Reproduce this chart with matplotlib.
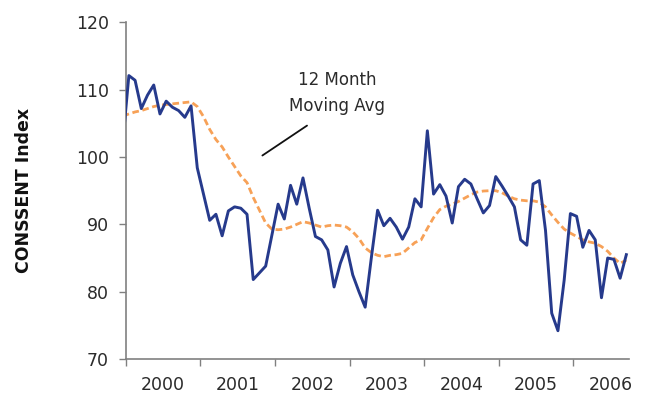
import numpy as np
import matplotlib
matplotlib.use("Agg")
import matplotlib.pyplot as plt
from matplotlib.ticker import FixedLocator, NullFormatter

# monthly consumer sentiment, Dec 1999 .. Sep 2006
start_year = 1999
start_month = 11  # zero-based month index of first value (December)
index_values = [
    102.0,
    112.1, 111.4, 107.2, 109.2, 110.7, 106.4, 108.3, 107.4, 106.9, 105.9, 107.6, 98.4,
    94.5, 90.6, 91.5, 88.3, 92.0, 92.6, 92.4, 91.5, 81.8, 82.8, 83.8, 88.4,
    93.0, 90.8, 95.8, 93.0, 96.9, 92.4, 88.2, 87.7, 86.2, 80.7, 84.2, 86.7,
    82.5, 80.0, 77.7, 85.1, 92.1, 89.8, 90.9, 89.6, 87.8, 89.6, 93.8, 92.6,
    103.9, 94.5, 95.9, 94.2, 90.2, 95.6, 96.7, 96.0, 93.8, 91.7, 92.8, 97.1,
    95.7, 94.2, 92.6, 87.7, 86.9, 96.0, 96.5, 89.1, 76.8, 74.2, 81.7, 91.6,
    91.2, 86.6, 89.1, 87.7, 79.1, 85.0, 84.8, 82.0, 85.5,
]
moving_avg = [
    106.1,
    106.4, 106.7, 106.9, 107.2, 107.5, 107.7, 107.8, 107.9, 108.0, 108.1, 108.2, 107.5,
    106.0, 104.1, 102.6, 101.5, 100.0, 98.6, 97.2, 96.2, 94.0, 92.1, 90.2, 89.3,
    89.2, 89.3, 89.6, 90.0, 90.4, 90.2, 89.9, 89.6, 89.8, 89.9, 89.8, 89.6,
    88.9, 87.9, 86.5, 85.8, 85.4, 85.2, 85.4, 85.5, 85.7, 86.5, 87.3, 87.7,
    89.4, 91.0, 92.2, 92.7, 93.0, 93.4, 93.9, 94.4, 94.8, 94.95, 95.0, 95.0,
    94.7, 94.2, 93.8, 93.6, 93.5, 93.5, 93.3, 92.6, 91.4, 90.3, 89.3, 88.7,
    88.2, 87.7, 87.4, 87.2, 86.7, 86.0, 85.0, 84.2, 84.7,
]
years = [2000, 2001, 2002, 2003, 2004, 2005, 2006]

navy = "#263a8c"
orange = "#f7a157"
grey = "#808080"
text_col = "#2b2b2b"

# each value sits in the middle of its month
months = np.arange(len(index_values)) + start_month + 0.5
t = start_year + months / 12.0

fig = plt.figure(figsize=(6.55, 3.93), dpi=100)
ax = fig.add_axes([0.192, 0.0865, 0.769, 0.8565])

ax.plot(t, moving_avg, color=orange, lw=2.0, ls=(0, (2.4, 1.3)), zorder=2)
ax.plot(t, index_values, color=navy, lw=2.1, zorder=3)

ax.set_xlim(2000, 2006.75)
ax.set_ylim(70, 120)

# year boundaries get tick marks, labels sit in the middle of each year
ax.xaxis.set_major_locator(FixedLocator(years))
ax.xaxis.set_major_formatter(NullFormatter())
ax.xaxis.set_minor_locator(FixedLocator([y + 0.5 for y in years]))
ax.set_xticklabels([str(y) for y in years], minor=True)
ax.tick_params(axis="x", which="major", length=5, width=1, color=grey, direction="out")
ax.tick_params(axis="x", which="minor", length=0, pad=12, labelsize=12.5, labelcolor=text_col)

ax.set_yticks(np.arange(70, 121, 10))
ax.tick_params(axis="y", length=5, width=1, color=grey, direction="out",
               pad=7, labelsize=12.5, labelcolor=text_col)

for side in ("top", "right"):
    ax.spines[side].set_visible(False)
for side in ("left", "bottom"):
    ax.spines[side].set_color(grey)
    ax.spines[side].set_linewidth(1.2)

ax.set_ylabel("CONSSENT Index", fontsize=12.5, fontweight="bold", color="#111111", labelpad=31)

ax.text(2002.83, 109.5, "12 Month\nMoving Avg", ha="center", va="center",
        fontsize=12, color=text_col, linespacing=1.55)
ax.annotate("", xy=(2001.80, 100.0), xytext=(2002.46, 104.9),
            arrowprops=dict(arrowstyle="-", color="#111111", lw=1.3))

fig.savefig("out.png", dpi=100)
